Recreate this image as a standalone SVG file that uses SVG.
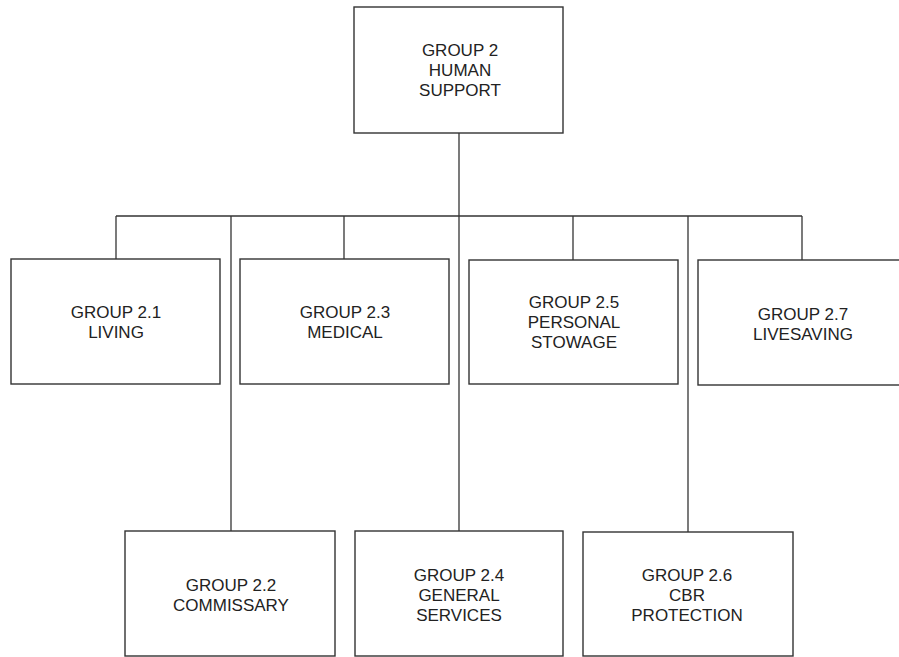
<svg xmlns="http://www.w3.org/2000/svg" width="899" height="657" viewBox="0 0 899 657">
<style>
.box{fill:#fff;stroke:#333;stroke-width:1.4}
.lbl{font-family:"Liberation Sans",Arial,sans-serif;font-size:17px;fill:#222;text-anchor:middle}
.conn{stroke:#333;stroke-width:1.3;fill:none}
</style>
<rect width="899" height="657" fill="#fff"/>
<g id="connectors">
<line class="conn" x1="459" y1="133" x2="459" y2="531"/>
<line class="conn" x1="116" y1="216" x2="802" y2="216"/>
<line class="conn" x1="116" y1="216" x2="116" y2="259"/>
<line class="conn" x1="231" y1="216" x2="231" y2="531"/>
<line class="conn" x1="344" y1="216" x2="344" y2="259"/>
<line class="conn" x1="573" y1="216" x2="573" y2="260"/>
<line class="conn" x1="688" y1="216" x2="688" y2="532"/>
<line class="conn" x1="802" y1="216" x2="802" y2="260"/>
</g>
<g id="g2">
<rect class="box" x="354" y="7" width="209" height="126"/>
<text class="lbl" x="460" y="56">GROUP 2</text>
<text class="lbl" x="460" y="76">HUMAN</text>
<text class="lbl" x="460" y="96">SUPPORT</text>
</g>
<g id="g21">
<rect class="box" x="11" y="259" width="209" height="125"/>
<text class="lbl" x="116" y="318">GROUP 2.1</text>
<text class="lbl" x="116" y="338">LIVING</text>
</g>
<g id="g23">
<rect class="box" x="240" y="259" width="209" height="125"/>
<text class="lbl" x="345" y="318">GROUP 2.3</text>
<text class="lbl" x="345" y="338">MEDICAL</text>
</g>
<g id="g25">
<rect class="box" x="469" y="260" width="209" height="124"/>
<text class="lbl" x="574" y="308">GROUP 2.5</text>
<text class="lbl" x="574" y="328">PERSONAL</text>
<text class="lbl" x="574" y="348">STOWAGE</text>
</g>
<g id="g27">
<rect class="box" x="698" y="260" width="209" height="125"/>
<text class="lbl" x="803" y="320">GROUP 2.7</text>
<text class="lbl" x="803" y="340">LIVESAVING</text>
</g>
<g id="g22">
<rect class="box" x="125" y="531" width="210" height="125"/>
<text class="lbl" x="231" y="591">GROUP 2.2</text>
<text class="lbl" x="231" y="611">COMMISSARY</text>
</g>
<g id="g24">
<rect class="box" x="355" y="531" width="208" height="125"/>
<text class="lbl" x="459" y="581">GROUP 2.4</text>
<text class="lbl" x="459" y="601">GENERAL</text>
<text class="lbl" x="459" y="621">SERVICES</text>
</g>
<g id="g26">
<rect class="box" x="583" y="532" width="210" height="124"/>
<text class="lbl" x="687" y="581">GROUP 2.6</text>
<text class="lbl" x="687" y="601">CBR</text>
<text class="lbl" x="687" y="621">PROTECTION</text>
</g>
</svg>
